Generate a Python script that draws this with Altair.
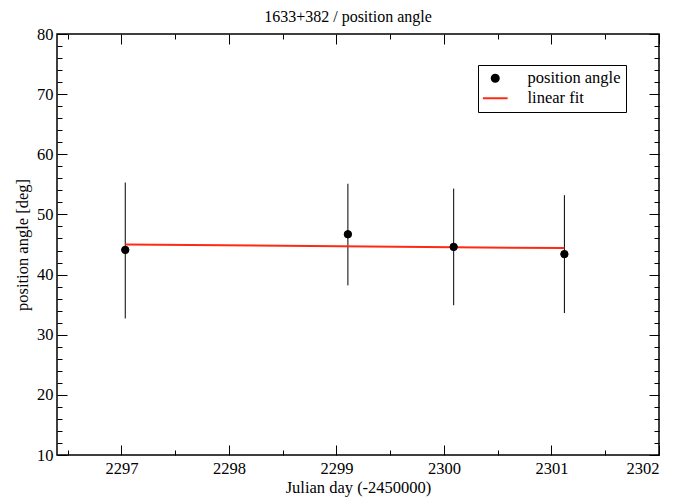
import altair as alt
import pandas as pd

# ---- data ----
jd = [2297.035, 2299.106, 2300.09, 2301.12]
pa = [44.1, 46.7, 44.6, 43.4]
pa_lo = [32.7, 38.2, 34.9, 33.6]
pa_hi = [55.3, 55.1, 54.3, 53.2]
fit_jd = [2297.035, 2301.12]
fit_pa = [45.0, 44.4]

x_major = [2297, 2298, 2299, 2300, 2301, 2302]
x_minor = [2296.5, 2297.5, 2298.5, 2299.5, 2300.5, 2301.5]
y_major = [10, 20, 30, 40, 50, 60, 70, 80]
y_minor = [12, 14, 16, 18, 22, 24, 26, 28, 32, 34, 36, 38, 42, 44, 46, 48,
           52, 54, 56, 58, 62, 64, 66, 68, 72, 74, 76, 78]

series = ["position angle", "linear fit"]
series_colors = ["black", "#ff2a14"]
series_shapes = ["circle", "M-3.5,0H3.5"]

pts = pd.DataFrame({"jd": jd, "pa": pa, "lo": pa_lo, "hi": pa_hi,
                    "series": ["position angle"] * len(jd)})
fit = pd.DataFrame({"jd": fit_jd, "pa": fit_pa,
                    "series": ["linear fit"] * len(fit_jd)})

FONT = "Liberation Serif"
FS = 16.5
xs = alt.Scale(domain=[2296.4, 2302], nice=False, zero=False)
ys = alt.Scale(domain=[10, 80], nice=False, zero=False)


def ax(orient, values, size, labels=False, title=None, pad=5, tpad=5):
    return alt.Axis(orient=orient, values=values, tickSize=size, offset=-size,
                    domain=False, grid=False, labels=labels, title=title,
                    format="d",
                    tickColor="black", tickWidth=1, labelPadding=pad,
                    titlePadding=tpad, labelFont=FONT, labelFontSize=FS,
                    titleFont=FONT, titleFontSize=FS, titleFontWeight="normal",
                    labelColor="black", titleColor="black")


leg = alt.Legend(orient="none", legendX=421, legendY=31, title=None,
                 strokeColor="black", fillColor="white", padding=5,
                 cornerRadius=0, labelFont=FONT, labelFontSize=FS,
                 labelColor="black", symbolSize=50, symbolStrokeWidth=2,
                 symbolFillColor="black", rowPadding=3, labelOffset=24,
                 symbolOffset=4)

stroke_scale = alt.Scale(domain=series, range=series_colors)
shape_scale = alt.Scale(domain=series, range=series_shapes)

errs = alt.Chart(pts).mark_rule(color="black", strokeWidth=1).encode(
    x=alt.X("jd:Q", scale=xs, axis=ax("bottom", x_minor, 5)),
    y=alt.Y("lo:Q", scale=ys, axis=ax("left", y_minor, 5)),
    y2="hi:Q",
)

line = alt.Chart(fit).mark_line(strokeWidth=2).encode(
    x=alt.X("jd:Q", scale=xs,
            axis=ax("bottom", x_major, 10, labels=True,
                    title="Julian day (-2450000)", pad=5, tpad=3)),
    y=alt.Y("pa:Q", scale=ys,
            axis=ax("left", y_major, 10, labels=True,
                    title="position angle [deg]", pad=4, tpad=6)),
    stroke=alt.Stroke("series:N", scale=stroke_scale, legend=leg),
)

points = alt.Chart(pts).mark_point(filled=True, size=55, color="black",
                                   strokeWidth=1, opacity=1).encode(
    x=alt.X("jd:Q", scale=xs, axis=ax("top", x_major, 10)),
    y=alt.Y("pa:Q", scale=ys, axis=ax("right", y_major, 10)),
    stroke=alt.Stroke("series:N", scale=stroke_scale, legend=leg),
    shape=alt.Shape("series:N", scale=shape_scale, legend=leg),
)

hidden = alt.Chart(pts).mark_point(opacity=0).encode(
    x=alt.X("jd:Q", scale=xs, axis=ax("top", x_minor, 5)),
    y=alt.Y("pa:Q", scale=ys, axis=ax("right", y_minor, 5)),
)

chart = alt.layer(errs, line, points, hidden).resolve_axis(
    x="independent", y="independent"
).properties(
    width=602, height=421,
    padding={"left": 49, "top": 26, "right": 24, "bottom": 46},
    autosize=alt.AutoSizeParams(type="none"),
    title=alt.TitleParams("1633+382 / position angle", font=FONT, fontSize=16,
                          fontWeight="normal", color="black", offset=1,
                          anchor="middle", dx=-10),
).configure_view(stroke="black", strokeWidth=1.5)

chart.save("out.html", embed_options={"renderer": "svg", "actions": False})
